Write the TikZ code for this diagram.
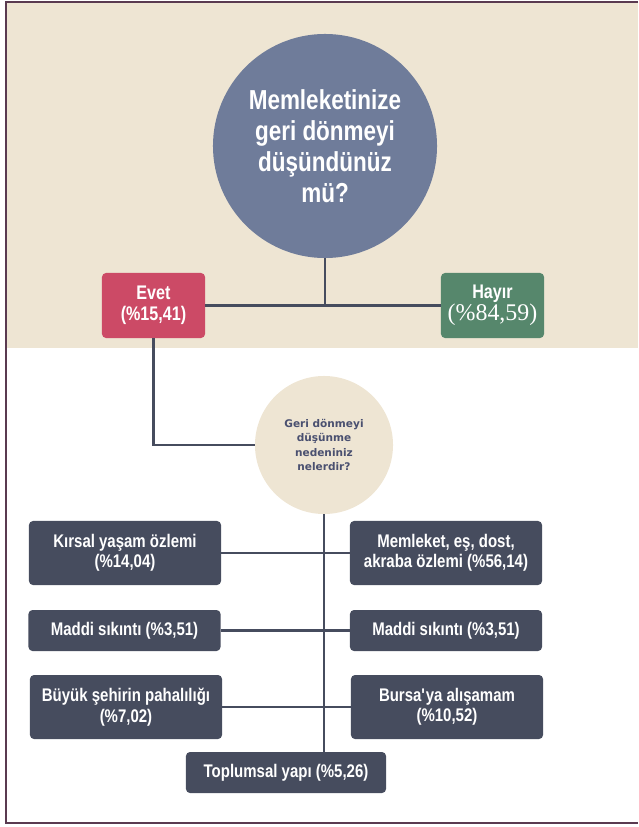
\documentclass[tikz,border=0pt]{standalone}
\usepackage{fontspec}
\setmainfont{Liberation Sans}[FakeStretch=0.82]
\newfontfamily\serifnum{Liberation Serif}
\newfontfamily\smallface{DejaVu Sans}
\usepackage{xcolor}
\usepackage{tikz}
\usetikzlibrary{positioning,calc}
\definecolor{bandbeige}{HTML}{EEE5D3}
\definecolor{slateblue}{HTML}{6F7C9A}
\definecolor{evetred}{HTML}{CC4A66}
\definecolor{hayirgreen}{HTML}{56876C}
\definecolor{slatebox}{HTML}{464C5E}
\definecolor{framepurple}{HTML}{5A3A50}
\definecolor{smalltext}{HTML}{4A5070}

\begin{document}
\begin{tikzpicture}[x=0.025cm,y=-0.025cm,
  every node/.style={font=\bfseries, align=center},
  answerbox/.style={rounded corners=1mm, text=white, minimum width=25.75mm, minimum height=16.25mm, inner sep=1pt},
  reasonbox/.style={fill=slatebox, rounded corners=1mm, text=white, minimum width=48mm, inner sep=1pt, font=\bfseries\fontsize{13}{14.5}\selectfont},
  tallbox/.style={reasonbox, minimum height=16mm},
  lowbox/.style={reasonbox, minimum height=10.25mm},
  link/.style={draw=slatebox, line width=2pt}]
\useasboundingbox (0,0) rectangle (638,827);
\fill[bandbeige] (7,3) rectangle (638,348);
\draw[framepurple, line width=0.9pt] (638,2) -- (6,2) -- (6,823) -- (638,823);

\node[circle,fill=slateblue,text=white,minimum size=56mm,inner sep=0pt,font=\bfseries\fontsize{19.5}{22}\selectfont] (q1) at (325,146) {Memleketinize\\geri dönmeyi\\düşündünüz\\mü?};
\node[answerbox,fill=evetred,font=\bfseries\fontsize{14}{15}\selectfont] (evet) at (153.5,305.5) {Evet\\(\%15,41)};
\node[answerbox,fill=hayirgreen] (hayir) at (492.5,305.5) {{\fontsize{14}{15}\selectfont Hayır}\\{\serifnum\mdseries\fontsize{17}{18}\selectfont(\%84,59)}};

\node[circle,fill=bandbeige,text=smalltext,minimum size=34.5mm,inner sep=0pt,font=\smallface\bfseries\fontsize{7.5}{10.3}\selectfont] (q2) at (324,445) {Geri dönmeyi\\düşünme\\nedeniniz\\nelerdir?};

\node[tallbox] (kirsal) at (125,553) {Kırsal yaşam özlemi\\(\%14,04)};
\node[tallbox] (memleket) at (446,553) {Memleket, eş, dost,\\akraba özlemi (\%56,14)};
\node[lowbox] (maddiL) at (124.5,630.5) {Maddi sıkıntı (\%3,51)};
\node[lowbox] (maddiR) at (446,630.5) {Maddi sıkıntı (\%3,51)};
\node[tallbox] (buyuk) at (126,707) {Büyük şehirin pahalılığı\\(\%7,02)};
\node[tallbox] (bursa) at (447,707) {Bursa\textquotesingle ya alışamam\\(\%10,52)};
\node[lowbox,minimum width=50mm] (topl) at (286,772.5) {Toplumsal yapı (\%5,26)};

% connectors
\draw[link] (q1.south) -- (q1.south |- evet.east);
\draw[link] (evet.east) -- (hayir.west);
\draw[link] (evet.south) |- (q2.west);
\draw[link] (q2.south) -- (q2.south |- topl.north);
\draw[link] (kirsal.east) -- (memleket.west);
\draw[link] (maddiL.east) -- (maddiR.west);
\draw[link] (buyuk.east) -- (bursa.west);
\end{tikzpicture}
\end{document}
